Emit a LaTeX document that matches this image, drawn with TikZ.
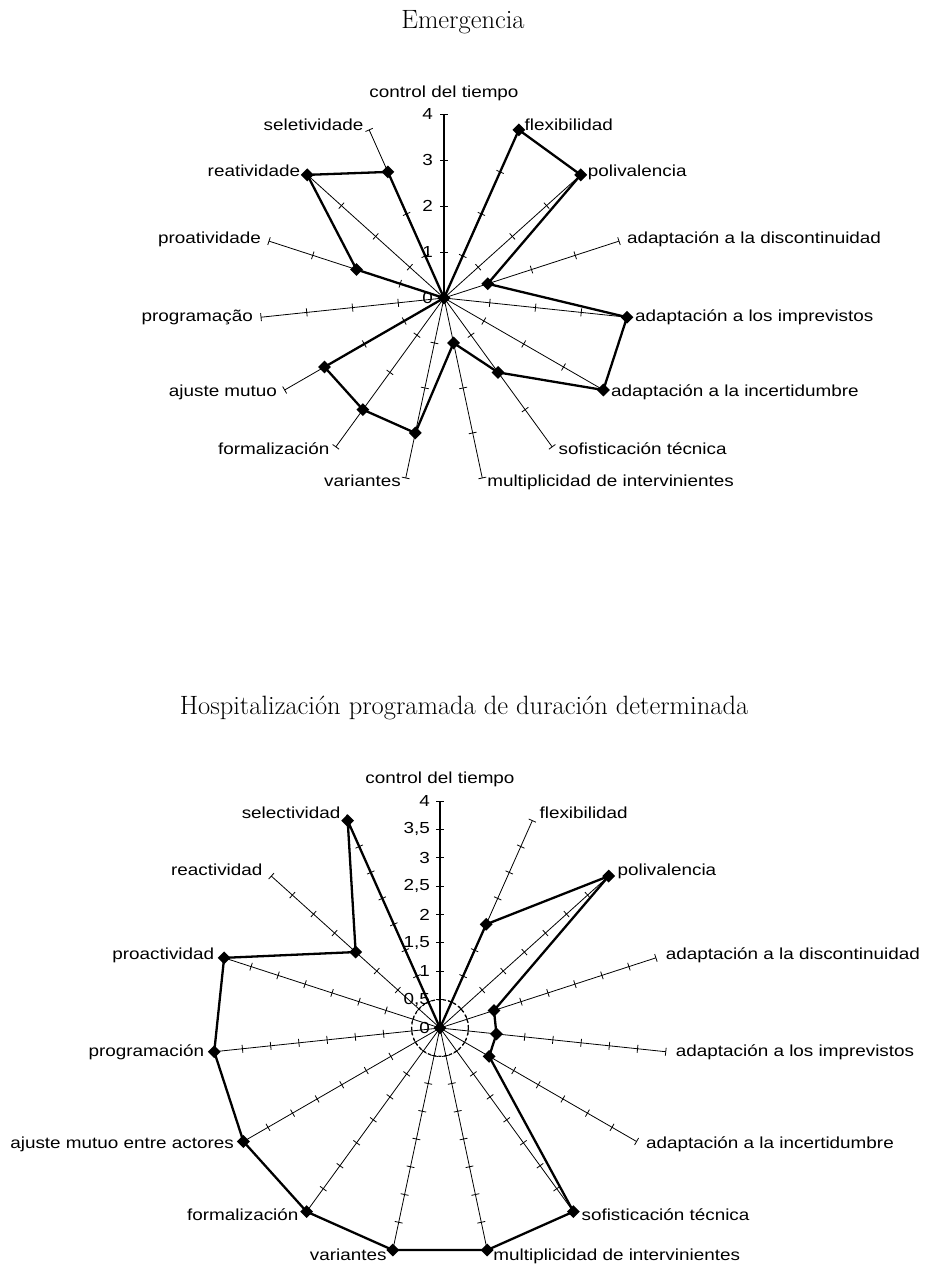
\documentclass[tikz,border=0pt]{standalone}
\usepackage{fontspec}
\newfontfamily\lblfont[FakeStretch=1.18]{Liberation Sans}
\usetikzlibrary{calc,shapes.geometric}
\begin{document}
\begin{tikzpicture}[x=1pt,y=1pt,
  axisline/.style={line width=0.8pt},
  mainaxis/.style={line width=1.3pt},
  tickmark/.style={line width=0.8pt},
  dataline/.style={line width=2.3pt,line join=miter,miter limit=6},
  mk/.style={diamond,fill=black,inner sep=0pt,minimum width=13pt,minimum height=13pt},
  lbl/.style={font=\lblfont\fontsize{16}{18}\selectfont,inner sep=0pt,text height=11.5pt,text depth=3.4pt},
  num/.style={font=\lblfont\fontsize{16}{18}\selectfont,inner sep=0pt,anchor=east},
  ttl/.style={font=\fontsize{26.5}{30}\selectfont,inner sep=0pt,anchor=base},
  ring/.style={dash pattern=on 3pt off 2.5pt,line width=1.2pt}
]
\fill[white] (0,0) rectangle (935,1267);
\useasboundingbox (0,0) rectangle (935,1267);

% titles
\node[ttl] (title1) at (463,1238) {Emergencia};
\node[ttl] (title2) at (464,552) {Hospitalización programada de duración determinada};

% ---------------- top chart ----------------
\coordinate (T-c) at (444,969);
\foreach \ang/\val [count=\i] in {90/0,66/4,42/4,18/1,-6/4,-30/4,-54/2,-78/1,-102/3,-126/3,-150/3,186/0,162/2,138/4,114/3}{
  \coordinate (T-e-\i) at ($(T-c)+(\ang:184)$);
  \coordinate (T-v-\i) at ($(T-c)+(\ang:\val*46)$);
  \foreach \k in {1,...,4}
    \draw[tickmark] ($(T-c)+(\ang:\k*46)+(\ang+90:4)$) -- ($(T-c)+(\ang:\k*46)+(\ang-90:4)$);
}
\foreach \i in {2,...,15} \draw[axisline] (T-c) -- (T-e-\i);
\draw[mainaxis] (T-c) -- (T-e-1);
\draw[dataline] (T-v-1) \foreach \i in {2,...,15}{ -- (T-v-\i)} -- cycle;
\foreach \i in {1,...,15} \node[mk] (T-m-\i) at (T-v-\i) {};
\foreach \k in {0,...,4} \node[num] (T-n-\k) at ($(T-c)+(-11,\k*46)$) {\k};
\node[lbl,anchor=base] (T-l-1) at ($(T-c)+(0,200)$) {control del tiempo};
\foreach \ang/\txt [count=\i from 2] in {66/flexibilidad,42/polivalencia,18/adaptación a la discontinuidad,-6/adaptación a los imprevistos,-30/adaptación a la incertidumbre,-54/sofisticación técnica,-78/multiplicidad de intervinientes}
  \node[lbl,anchor=west] (T-l-\i) at ($(T-e-\i)+({4+4*abs(cos(\ang))},{4.3*sin(\ang)})$) {\txt};
\foreach \ang/\txt [count=\i from 9] in {-102/variantes,-126/formalización,-150/ajuste mutuo,186/programação,162/proatividade,138/reatividade,114/seletividade}
  \node[lbl,anchor=east] (T-l-\i) at ($(T-e-\i)+({-4-4*abs(cos(\ang))},{4.3*sin(\ang)})$) {\txt};

% ---------------- bottom chart ----------------
\coordinate (B-c) at (440,239);
\foreach \ang/\val [count=\i] in {90/0,66/2,42/4,18/1,-6/1,-30/1,-54/4,-78/4,-102/4,-126/4,-150/4,186/4,162/4,138/2,114/4}{
  \coordinate (B-e-\i) at ($(B-c)+(\ang:227)$);
  \coordinate (B-v-\i) at ($(B-c)+(\ang:\val*56.75)$);
  \foreach \k in {1,...,8}
    \draw[tickmark] ($(B-c)+(\ang:\k*28.375)+(\ang+90:4)$) -- ($(B-c)+(\ang:\k*28.375)+(\ang-90:4)$);
}
\foreach \i in {2,...,15} \draw[axisline] (B-c) -- (B-e-\i);
\draw[mainaxis] (B-c) -- (B-e-1);
\draw[ring] (B-c) circle[radius=28.375];
\draw[dataline] (B-v-1) \foreach \i in {2,...,15}{ -- (B-v-\i)} -- cycle;
\foreach \i in {1,...,15} \node[mk] (B-m-\i) at (B-v-\i) {};
\foreach \k/\t in {0/0,1/{0,5},2/1,3/{1,5},4/2,5/{2,5},6/3,7/{3,5},8/4}
  \node[num] (B-n-\k) at ($(B-c)+(-10,\k*28.375)$) {\t};
\node[lbl,anchor=base] (B-l-1) at ($(B-c)+(0,244)$) {control del tiempo};
\foreach \ang/\txt [count=\i from 2] in {66/flexibilidad,42/polivalencia,18/adaptación a la discontinuidad,-6/adaptación a los imprevistos,-30/adaptación a la incertidumbre,-54/sofisticación técnica,-78/multiplicidad de intervinientes}
  \node[lbl,anchor=west] (B-l-\i) at ($(B-e-\i)+({5+5*abs(cos(\ang))},{6.5*sin(\ang)})$) {\txt};
\foreach \ang/\txt [count=\i from 9] in {-102/variantes,-126/formalización,-150/ajuste mutuo entre actores,186/programación,162/proactividad,138/reactividad,114/selectividad}
  \node[lbl,anchor=east] (B-l-\i) at ($(B-e-\i)+({-5-5*abs(cos(\ang))},{6.5*sin(\ang)})$) {\txt};
\end{tikzpicture}
\end{document}
